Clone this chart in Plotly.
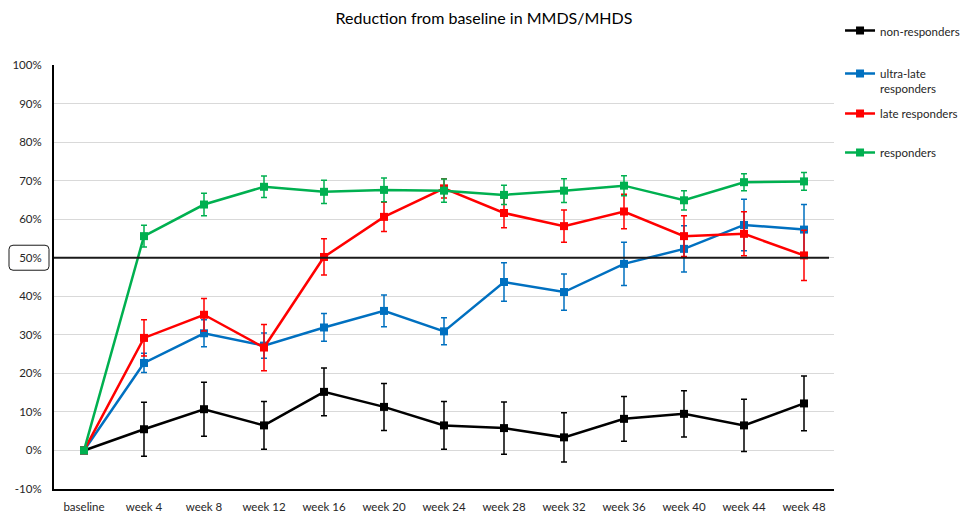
import plotly.graph_objects as go

categories = ["baseline", "week 4", "week 8", "week 12", "week 16", "week 20", "week 24",
              "week 28", "week 32", "week 36", "week 40", "week 44", "week 48"]

non_resp = [0, 5.5, 10.7, 6.5, 15.2, 11.3, 6.5, 5.8, 3.4, 8.2, 9.5, 6.5, 12.2]
non_resp_err = [None, 7.0, 7.0, 6.2, 6.2, 6.1, 6.2, 6.8, 6.4, 5.8, 6.0, 6.8, 7.1]

ultra_late = [0, 22.7, 30.4, 27.2, 31.9, 36.2, 30.9, 43.7, 41.1, 48.4, 52.3, 58.5, 57.3]
ultra_late_err = [None, 2.5, 3.5, 3.3, 3.6, 4.1, 3.5, 5.0, 4.7, 5.6, 6.0, 6.7, 6.5]

late = [0, 29.2, 35.2, 26.7, 50.2, 60.6, 68.0, 61.6, 58.2, 62.0, 55.6, 56.2, 50.6]
late_err = [None, 4.7, 4.2, 6.0, 4.7, 3.8, 2.5, 3.8, 4.2, 4.5, 5.3, 5.7, 6.5]

responders = [0, 55.6, 63.8, 68.4, 67.1, 67.6, 67.4, 66.3, 67.4, 68.7, 64.9, 69.6, 69.8]
responders_err = [None, 2.8, 2.9, 2.8, 3.0, 3.1, 3.0, 2.5, 3.1, 2.6, 2.5, 2.2, 2.3]

series_names = ["non-responders", "ultra-late<br>responders", "late responders", "responders"]
series_values = [non_resp, ultra_late, late, responders]
series_errors = [non_resp_err, ultra_late_err, late_err, responders_err]
colors = ["#000000", "#0070C0", "#FF0000", "#00B050"]
legend_ids = ["legend", "legend2", "legend3", "legend4"]
legend_y = [0.9677, 0.8838, 0.8057, 0.7295]

threshold = 50
y_ticks = list(range(-10, 101, 10))
y_ticktext = [f"{v}%" for v in y_ticks]

FONT = "Lato"
TXT = "#262626"

fig = go.Figure()
for name, vals, errs, col, lid in zip(series_names, series_values, series_errors, colors, legend_ids):
    fig.add_trace(go.Scatter(
        x=categories, y=vals, name=name, mode="lines+markers",
        line=dict(color=col, width=2.5),
        marker=dict(symbol="square", size=8, color=col),
        error_y=dict(type="data", array=errs, visible=True, color=col, thickness=1.5, width=3),
        legend=lid, showlegend=True,
    ))

# 50% reference line
fig.add_shape(type="line", xref="paper", yref="y", x0=0, x1=0.9936, y0=threshold, y1=threshold,
              line=dict(color="#1a1a1a", width=2), layer="above")

# rounded box around the 50% tick label
W, H = 780, 424
px_per_unit = H / 110.0
xl, xr = (9 - 54) / W, (49 - 54) / W
yb, yt = threshold - 12.5 / px_per_unit, threshold + 12.5 / px_per_unit
rx, ry = 4 / W, 4 / px_per_unit
path = (f"M {xl+rx},{yt} L {xr-rx},{yt} Q {xr},{yt} {xr},{yt-ry} L {xr},{yb+ry} "
        f"Q {xr},{yb} {xr-rx},{yb} L {xl+rx},{yb} Q {xl},{yb} {xl},{yb+ry} "
        f"L {xl},{yt-ry} Q {xl},{yt} {xl+rx},{yt} Z")
fig.add_shape(type="path", xref="paper", yref="y", path=path,
              line=dict(color="#1a1a1a", width=1))

layout_legends = {}
for lid, ly in zip(legend_ids, legend_y):
    layout_legends[lid] = dict(x=0.8678, y=ly, xref="container", yref="container",
                               xanchor="left", yanchor="top", valign="top",
                               font=dict(family=FONT, size=11.5, color=TXT),
                               bgcolor="rgba(0,0,0,0)", itemwidth=30)

fig.update_layout(
    width=968, height=512,
    showlegend=True,
    margin=dict(l=54, r=134, t=65, b=23, autoexpand=False),
    paper_bgcolor="white", plot_bgcolor="white",
    title=dict(text="Reduction from baseline in MMDS/MHDS", x=0.5, xanchor="center",
               y=0.965, yanchor="middle", font=dict(family=FONT, size=16, color="#000000")),
    font=dict(family=FONT, size=11.5, color=TXT),
    xaxis=dict(type="category", range=[-0.5, 12.5], showgrid=False, showline=True,
               linecolor="#000000", linewidth=2, ticks="", ticklabelstandoff=6,
               automargin=False,
               tickfont=dict(family=FONT, size=11.5, color=TXT), zeroline=False),
    yaxis=dict(range=[-10, 100], tickvals=y_ticks, ticktext=y_ticktext, showgrid=True,
               gridcolor="#d9d9d9", gridwidth=1, showline=True, linecolor="#000000",
               linewidth=2, ticks="", ticklabelstandoff=8, zeroline=False, automargin=False,
               tickfont=dict(family=FONT, size=11.5, color=TXT)),
    **layout_legends,
)

fig.write_html("out.html", config={"displayModeBar": False},
               post_script="document.body.style.margin='0';document.body.style.overflow='hidden';")
